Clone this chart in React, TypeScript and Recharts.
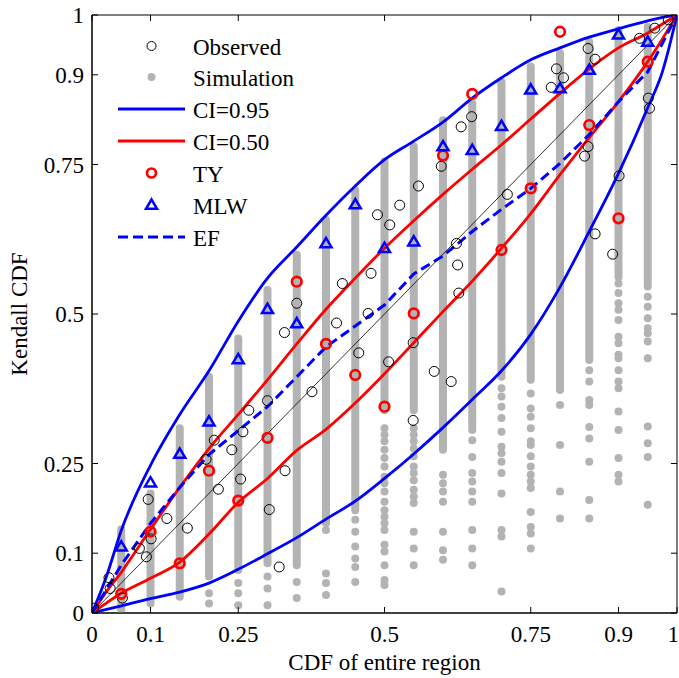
import React from 'react';
import { ComposedChart, Line, Scatter, XAxis, YAxis, ReferenceArea, Legend, Label } from 'recharts';

const FONT = "'Liberation Serif', 'Times New Roman', Times, serif";
const PLOT_W = 585;
const PLOT_H = 598;

const axisTicks = [0, 0.1, 0.25, 0.5, 0.75, 0.9, 1];

// simulation columns; TY and MLW sit on the same x positions
const colX = [0.05, 0.1, 0.15, 0.2, 0.25, 0.3, 0.35, 0.4, 0.45, 0.5, 0.55, 0.6, 0.65, 0.7, 0.75, 0.8, 0.85, 0.9, 0.95];
// dense (solid looking) part of each simulation column
const simTop = [0.14, 0.2, 0.309, 0.395, 0.459, 0.54, 0.599, 0.657, 0.707, 0.755, 0.78, 0.824, 0.852, 0.888, 0.914, 0.936, 0.955, 0.975, 0.98];
const simBottom = [0.005, 0.016, 0.027, 0.061, 0.072, 0.083, 0.08, 0.15, 0.172, 0.339, 0.339, 0.273, 0.306, 0.395, 0.39, 0.373, 0.423, 0.562, 0.546];
// single simulation dots below the dense part
const simLoose = [
  [],
  [],
  [],
  [0.033, 0.016],
  [0.05, 0.033, 0.013],
  [0.061, 0.041, 0.013],
  [0.052, 0.025],
  [0.139, 0.066, 0.05, 0.03],
  [0.156, 0.136, 0.111, 0.091, 0.077, 0.052],
  [0.309, 0.298, 0.287, 0.273, 0.259, 0.245, 0.228, 0.217, 0.203, 0.186, 0.172, 0.161, 0.15, 0.139, 0.114, 0.103, 0.08, 0.055, 0.047],
  [0.309, 0.298, 0.287, 0.275, 0.262, 0.245, 0.234, 0.222, 0.206, 0.195, 0.184, 0.136, 0.108, 0.08],
  [0.231, 0.217, 0.203, 0.186, 0.136, 0.105, 0.089],
  [0.289, 0.261, 0.234, 0.22, 0.203, 0.186, 0.139, 0.108, 0.08],
  [0.376, 0.362, 0.345, 0.326, 0.303, 0.278, 0.267, 0.253, 0.234, 0.2, 0.139, 0.128, 0.036],
  [0.367, 0.342, 0.328, 0.309, 0.287, 0.281, 0.262, 0.245, 0.231, 0.22, 0.209, 0.169, 0.144, 0.133, 0.108],
  [0.348, 0.281, 0.203, 0.158],
  [0.406, 0.387, 0.356, 0.348, 0.311, 0.292, 0.253, 0.189, 0.158],
  [0.551, 0.535, 0.518, 0.507, 0.49, 0.462, 0.451, 0.432, 0.426, 0.406, 0.387, 0.376, 0.337, 0.306, 0.259, 0.231, 0.22],
  [0.529, 0.512, 0.493, 0.476, 0.468, 0.454, 0.426, 0.312, 0.284, 0.261, 0.181],
];

const tyY = [0.032, 0.136, 0.083, 0.238, 0.188, 0.293, 0.554, 0.45, 0.398, 0.345, 0.501, 0.765, 0.868, 0.607, 0.71, 0.972, 0.816, 0.66, 0.922];
const mlwY = [0.111, 0.218, 0.266, 0.32, 0.424, 0.508, 0.484, 0.618, 0.683, 0.61, 0.621, 0.78, 0.774, 0.814, 0.875, 0.877, 0.908, 0.967, 0.955];

const obsX = [0.003, 0.029, 0.031, 0.052, 0.081, 0.093, 0.101, 0.096, 0.128, 0.163, 0.195, 0.209, 0.216, 0.239, 0.254, 0.258, 0.268, 0.3, 0.303, 0.32, 0.329, 0.33, 0.35, 0.376, 0.418, 0.428, 0.456, 0.472, 0.477, 0.507, 0.488, 0.509, 0.526, 0.549, 0.549, 0.558, 0.585, 0.614, 0.597, 0.623, 0.625, 0.627, 0.631, 0.649, 0.71, 0.785, 0.794, 0.806, 0.842, 0.848, 0.848, 0.86, 0.86, 0.89, 0.901, 0.936, 0.951, 0.953, 0.962, 0.985];
const obsY = [0.008, 0.059, 0.041, 0.025, 0.108, 0.094, 0.124, 0.19, 0.158, 0.142, 0.257, 0.289, 0.207, 0.273, 0.224, 0.303, 0.339, 0.355, 0.173, 0.077, 0.469, 0.238, 0.518, 0.37, 0.485, 0.551, 0.435, 0.501, 0.568, 0.42, 0.666, 0.649, 0.682, 0.452, 0.322, 0.714, 0.404, 0.387, 0.747, 0.618, 0.582, 0.535, 0.813, 0.83, 0.7, 0.879, 0.91, 0.895, 0.764, 0.78, 0.944, 0.926, 0.634, 0.6, 0.731, 0.961, 0.861, 0.844, 0.978, 0.992];

// confidence bands and EF curve
const curveX = [0, 0.025, 0.05, 0.1, 0.15, 0.2, 0.25, 0.3, 0.35, 0.4, 0.45, 0.5, 0.55, 0.6, 0.65, 0.7, 0.75, 0.8, 0.85, 0.9, 0.95, 0.975, 1];
const ci95Upper = [0, 0.062, 0.138, 0.247, 0.332, 0.405, 0.488, 0.56, 0.612, 0.665, 0.714, 0.758, 0.789, 0.821, 0.861, 0.895, 0.925, 0.945, 0.963, 0.977, 0.99, 0.996, 1];
const ci95Lower = [0, 0.006, 0.012, 0.024, 0.035, 0.05, 0.073, 0.099, 0.126, 0.157, 0.187, 0.225, 0.266, 0.31, 0.357, 0.405, 0.466, 0.545, 0.638, 0.735, 0.845, 0.905, 1];
const ci50Upper = [0, 0.036, 0.068, 0.14, 0.21, 0.275, 0.332, 0.39, 0.45, 0.508, 0.56, 0.61, 0.656, 0.7, 0.742, 0.783, 0.826, 0.869, 0.91, 0.945, 0.97, 0.985, 1];
const ci50Lower = [0, 0.017, 0.033, 0.058, 0.085, 0.132, 0.185, 0.225, 0.272, 0.307, 0.351, 0.4, 0.452, 0.504, 0.555, 0.61, 0.668, 0.733, 0.795, 0.855, 0.922, 0.96, 1];
const efX = [0, 0.05, 0.1, 0.15, 0.2, 0.25, 0.3, 0.35, 0.4, 0.45, 0.5, 0.55, 0.6, 0.65, 0.7, 0.75, 0.8, 0.85, 0.9, 0.95, 1];
const efY = [0, 0.08, 0.15, 0.21, 0.265, 0.305, 0.345, 0.395, 0.445, 0.48, 0.515, 0.567, 0.597, 0.638, 0.675, 0.71, 0.752, 0.8, 0.855, 0.905, 1];
const diagonal = [0, 1];

const legendNames = ['Observed', 'Simulation', 'CI=0.95', 'CI=0.50', 'TY', 'MLW', 'EF'];

const toPts = (xs: number[], ys: number[]) => xs.map((x, i) => ({ x, y: ys[i] }));

const bands = colX.map((x, i) => [{ x, y: simBottom[i] }, { x, y: simTop[i] }]);
const simDots = colX.flatMap((x, i) => simLoose[i].map((y) => ({ x, y })));

const BLUE = '#0000ff';
const RED = '#ff0000';
const GRAY = '#b3b3b3';

const XTick = (props: any) => {
  const { x, y, payload } = props;
  // the last label sits on the right edge of the page, keep it inside
  const isLast = payload.value === 1;
  return (
    <g>
      <line x1={x} y1={y} x2={x} y2={y - 6} stroke="#000" />
      <line x1={x} y1={y - PLOT_H} x2={x} y2={y - PLOT_H + 6} stroke="#000" />
      <text
        x={isLast ? x + 2 : x}
        y={y + 29}
        textAnchor={isLast ? 'end' : 'middle'}
        fontFamily={FONT}
        fontSize={23}
        fill="#000"
      >
        {String(payload.value)}
      </text>
    </g>
  );
};

const YTick = (props: any) => {
  const { x, y, payload } = props;
  return (
    <g>
      <line x1={x} y1={y} x2={x + 6} y2={y} stroke="#000" />
      <line x1={x + PLOT_W} y1={y} x2={x + PLOT_W - 6} y2={y} stroke="#000" />
      <text x={x - 8} y={y + 8} textAnchor="end" fontFamily={FONT} fontSize={23} fill="#000">
        {String(payload.value)}
      </text>
    </g>
  );
};

const OpenCircle = (props: any) => (
  <circle cx={props.cx} cy={props.cy} r={5} fill="none" stroke="#000" strokeWidth={1} />
);
const SimDot = (props: any) => <circle cx={props.cx} cy={props.cy} r={4} fill={GRAY} />;
const TyCircle = (props: any) => (
  <circle cx={props.cx} cy={props.cy} r={4.8} fill="none" stroke={RED} strokeWidth={2.7} />
);
const Triangle = (props: any) => {
  const { cx, cy } = props;
  return (
    <polygon
      points={`${cx},${cy - 5.5} ${cx - 5.5},${cy + 3.8} ${cx + 5.5},${cy + 3.8}`}
      fill="none"
      stroke={BLUE}
      strokeWidth={2.5}
    />
  );
};

const legendIcon = (i: number) => {
  const cx = 33.5;
  const cy = 16;
  switch (i) {
    case 0:
      return <circle cx={cx} cy={cy} r={4.5} fill="none" stroke="#000" />;
    case 1:
      return <circle cx={cx} cy={cy} r={4} fill={GRAY} />;
    case 2:
      return <line x1={0} y1={cy} x2={67} y2={cy} stroke={BLUE} strokeWidth={3} />;
    case 3:
      return <line x1={0} y1={cy} x2={67} y2={cy} stroke={RED} strokeWidth={3} />;
    case 4:
      return <circle cx={cx} cy={cy} r={4.5} fill="none" stroke={RED} strokeWidth={2.7} />;
    case 5:
      return <polygon points={`${cx},${cy - 5.5} ${cx - 5.5},${cy + 3.8} ${cx + 5.5},${cy + 3.8}`} fill="none" stroke={BLUE} strokeWidth={2.5} />;
    default:
      return <line x1={0} y1={cy} x2={67} y2={cy} stroke={BLUE} strokeWidth={3} strokeDasharray="10 5" />;
  }
};

const LegendBox = () => (
  <div style={{ fontFamily: FONT, fontSize: 23, color: '#000' }}>
    {legendNames.map((name, i) => (
      <div key={name} style={{ display: 'flex', alignItems: 'flex-start', height: 31.9 }}>
        <svg width={67} height={32} style={{ display: 'block', flex: 'none' }}>
          {legendIcon(i)}
        </svg>
        <span style={{ marginLeft: 8, lineHeight: '32px', paddingTop: 2 }}>{name}</span>
      </div>
    ))}
  </div>
);

const XLabel = (props: any) => {
  const vb = props.viewBox;
  return (
    <text x={vb.x + vb.width / 2} y={vb.y + 57} textAnchor="middle" fontFamily={FONT} fontSize={23} fill="#000">
      CDF of entire region
    </text>
  );
};

const YLabel = (props: any) => {
  const vb = props.viewBox;
  const cy = vb.y + vb.height / 2;
  return (
    <text x={27} y={cy} transform={`rotate(-90 27 ${cy})`} textAnchor="middle" fontFamily={FONT} fontSize={23} fill="#000">
      Kendall CDF
    </text>
  );
};

export default function App() {
  return (
    <div style={{ position: 'absolute', left: 0, top: 0, width: 679, height: 678, background: '#fff' }}>
      <ComposedChart width={679} height={678} margin={{ top: 15, right: 2, bottom: 0, left: 0 }}>
        <XAxis
          dataKey="x"
          type="number"
          domain={[0, 1]}
          ticks={axisTicks}
          interval={0}
          allowDataOverflow
          height={65}
          tickSize={0}
          tickMargin={0}
          tickLine={false}
          axisLine={{ stroke: '#000' }}
          tick={<XTick />}
        >
          <Label content={<XLabel />} />
        </XAxis>
        <YAxis
          dataKey="y"
          type="number"
          domain={[0, 1]}
          ticks={axisTicks}
          interval={0}
          allowDataOverflow
          width={92}
          tickSize={0}
          tickMargin={0}
          tickLine={false}
          axisLine={{ stroke: '#000' }}
          tick={<YTick />}
        >
          <Label content={<YLabel />} />
        </YAxis>
        <ReferenceArea x1={0} x2={1} y1={0} y2={1} fill="none" fillOpacity={0} stroke="#000" strokeWidth={1} ifOverflow="visible" />

        {bands.map((d, i) => (
          <Line
            key={`band-${i}`}
            data={d}
            dataKey="y"
            type="linear"
            stroke={GRAY}
            strokeWidth={8}
            strokeLinecap="round"
            dot={false}
            activeDot={false}
            legendType="none"
            isAnimationActive={false}
            zIndex={100}
          />
        ))}
        <Scatter data={simDots} dataKey="y" shape={<SimDot />} legendType="none" isAnimationActive={false} zIndex={100} />

        <Line data={toPts(diagonal, diagonal)} dataKey="y" type="linear" stroke="#000" strokeWidth={0.8} dot={false} activeDot={false} legendType="none" isAnimationActive={false} />
        <Line data={toPts(curveX, ci95Upper)} dataKey="y" type="monotone" stroke={BLUE} strokeWidth={2.8} dot={false} activeDot={false} legendType="none" isAnimationActive={false} />
        <Line data={toPts(curveX, ci95Lower)} dataKey="y" type="monotone" stroke={BLUE} strokeWidth={2.8} dot={false} activeDot={false} legendType="none" isAnimationActive={false} />
        <Line data={toPts(curveX, ci50Upper)} dataKey="y" type="monotone" stroke={RED} strokeWidth={2.8} dot={false} activeDot={false} legendType="none" isAnimationActive={false} />
        <Line data={toPts(curveX, ci50Lower)} dataKey="y" type="monotone" stroke={RED} strokeWidth={2.8} dot={false} activeDot={false} legendType="none" isAnimationActive={false} />
        <Line data={toPts(efX, efY)} dataKey="y" type="linear" stroke={BLUE} strokeWidth={3} strokeDasharray="10 5" dot={false} activeDot={false} legendType="none" isAnimationActive={false} />

        <Scatter data={toPts(obsX, obsY)} dataKey="y" shape={<OpenCircle />} legendType="none" isAnimationActive={false} />
        <Scatter data={toPts(colX, tyY)} dataKey="y" shape={<TyCircle />} legendType="none" isAnimationActive={false} />
        <Scatter data={toPts(colX, mlwY)} dataKey="y" shape={<Triangle />} legendType="none" isAnimationActive={false} />

        <Legend
          layout="vertical"
          align="center"
          verticalAlign="middle"
          width={260}
          wrapperStyle={{ left: 118, top: 29.5 }}
          content={() => <LegendBox />}
        />
      </ComposedChart>
    </div>
  );
}
